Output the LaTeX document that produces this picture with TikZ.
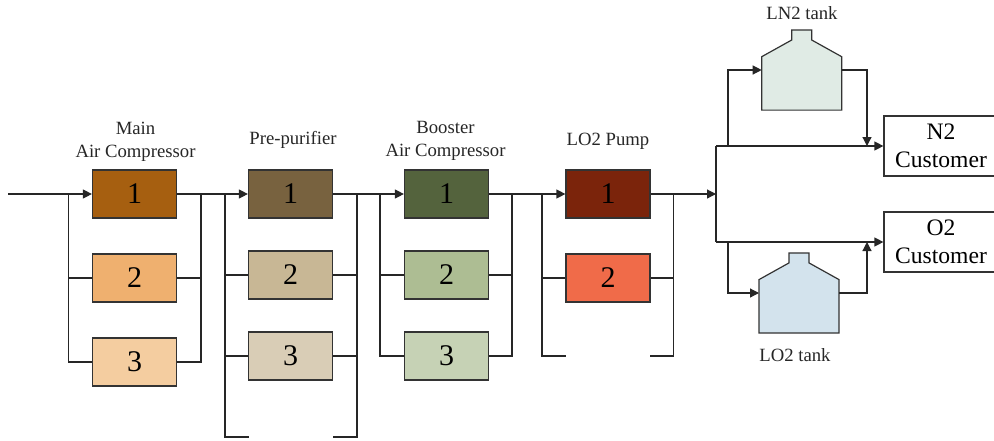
\documentclass[tikz,border=0pt]{standalone}
\usepackage{fontspec}
\setmainfont{Liberation Serif}
\usetikzlibrary{arrows.meta}
\definecolor{ink}{HTML}{333333}
\definecolor{maA}{HTML}{A65F10}
\definecolor{maB}{HTML}{EFB06F}
\definecolor{maC}{HTML}{F4CDA0}
\definecolor{ppA}{HTML}{78623F}
\definecolor{ppB}{HTML}{C8B795}
\definecolor{ppC}{HTML}{D9CDB6}
\definecolor{baA}{HTML}{54633D}
\definecolor{baB}{HTML}{ADBD93}
\definecolor{baC}{HTML}{C6D2B5}
\definecolor{loA}{HTML}{7B240B}
\definecolor{loB}{HTML}{F06B49}
\definecolor{lnfill}{HTML}{E0EBE5}
\definecolor{lofill}{HTML}{D3E3ED}
\tikzset{
  unitbox/.style={draw=ink,line width=1.2pt,minimum width=84pt,minimum height=48pt,inner sep=0pt,font=\fontsize{30}{30}\selectfont},
  custbox/.style={draw=ink,line width=1.2pt,minimum width=114pt,minimum height=60pt,inner sep=0pt,align=center,font=\fontsize{23.6}{28}\selectfont},
  tankbody/.style={minimum width=80pt,minimum height=53.4pt,inner sep=0pt,outer sep=0pt},
  tankline/.style={draw=ink,line width=1.2pt,line join=miter},
  heading/.style={align=center,inner sep=0pt,text=black!85,font=\fontsize{18.7}{23.5}\selectfont},
  pipe/.style={draw=black!85,line width=1.2pt},
  flow/.style={pipe,-{Triangle[length=9pt,width=9pt]}}
}
\begin{document}
\begin{tikzpicture}[x=1pt,y=-1pt]
  \useasboundingbox (0,0) rectangle (994,440);
  \clip (0,0) rectangle (994,440);

  % Units
  \foreach \n/\y/\c in {1/194/maA,2/278/maB,3/362/maC} {
    \node[unitbox,fill=\c] (ma\n) at (134.5,\y) {\n};
  }
  \foreach \n/\y/\c in {1/194/ppA,2/275/ppB,3/356/ppC} {
    \node[unitbox,fill=\c] (pp\n) at (290.5,\y) {\n};
  }
  \foreach \n/\y/\c in {1/194/baA,2/275/baB,3/356/baC} {
    \node[unitbox,fill=\c] (ba\n) at (446.5,\y) {\n};
  }
  \foreach \n/\y/\c in {1/194/loA,2/278/loB} {
    \node[unitbox,fill=\c] (lo\n) at (608,\y) {\n};
  }

  % Headings
  \node[heading] (mahead) at (135.5,142) {Main\\Air Compressor};
  \node[heading] (pphead) at (293,140) {Pre-purifier};
  \node[heading] (bahead) at (445.5,141) {Booster\\Air Compressor};
  \node[heading] (lohead) at (608,141) {LO2 Pump};

  % Tanks
  \node[tankbody] (lntank) at (801.7,83.4) {};
  \node[tankbody] (lotank) at (799,306.3) {};
  \draw[tankline,fill=lnfill] (lntank.south west) -- (lntank.north west) -- ++(30,-16.7) -- ++(0,-10) -- ++(20,0) -- ++(0,10) -- (lntank.north east) -- (lntank.south east) -- cycle;
  \draw[tankline,fill=lofill] (lotank.south west) -- (lotank.north west) -- ++(30,-16.7) -- ++(0,-10) -- ++(20,0) -- ++(0,10) -- (lotank.north east) -- (lotank.south east) -- cycle;
  \node[heading] (lnhead) at (802,13) {LN2 tank};
  \node[heading] (lohd) at (795,355) {LO2 tank};

  % Customers
  \node[custbox] (ntwo) at (941,146) {N2\\Customer};
  \node[custbox] (otwo) at (941,242) {O2\\Customer};

  % Free ends
  \coordinate (feed) at (8,194);
  \coordinate (maL) at (68.5,194);
  \coordinate (maR) at (201,194);
  \coordinate (ppL) at (225,194);
  \coordinate (ppR) at (357,194);
  \coordinate (baL) at (380,194);
  \coordinate (baR) at (512,194);
  \coordinate (loL) at (542,194);
  \coordinate (loR) at (673.5,194);
  \coordinate (ppa) at (248.5,437);
  \coordinate (ppb) at (332.5,437);
  \coordinate (loa) at (566,356);
  \coordinate (lob) at (650,356);
  \coordinate (split) at (716,194);
  \coordinate (nbus) at (716,146);
  \coordinate (obus) at (716,242);
  \coordinate (nbranch) at (728,146);
  \coordinate (obranch) at (728,242);
  \coordinate (lnin) at (761.7,70);
  \coordinate (lnout) at (841.7,70);
  \coordinate (ndrop) at (867,146);
  \coordinate (loin) at (759,293);
  \coordinate (loout) at (839,293);
  \coordinate (orise) at (867,242);

  % Main line
  \draw[flow] (feed) -- (ma1);
  \draw[flow] (ma1) -- (pp1);
  \draw[flow] (pp1) -- (ba1);
  \draw[flow] (ba1) -- (lo1);
  \draw[flow] (lo1) -- (split);

  % Parallel branches
  \foreach \s in {ma,pp,ba} {
    \foreach \n in {2,3} {
      \draw[pipe] (\s L) |- (\s\n);
      \draw[pipe] (\s R) |- (\s\n);
    }
  }
  \draw[pipe] (ppL) |- (ppa);
  \draw[pipe] (ppR) |- (ppb);
  \draw[pipe] (loL) |- (lo2);
  \draw[pipe] (loR) |- (lo2);
  \draw[pipe] (loL) |- (loa);
  \draw[pipe] (loR) |- (lob);

  % Delivery
  \draw[pipe] (nbus) -- (obus);
  \draw[flow] (nbus) -- (ntwo);
  \draw[flow] (obus) -- (otwo);
  \draw[flow] (nbranch) |- (lnin);
  \draw[flow] (obranch) |- (loin);
  \draw[flow] (lnout) -| (ndrop);
  \draw[flow] (loout) -| (orise);
\end{tikzpicture}
\end{document}
